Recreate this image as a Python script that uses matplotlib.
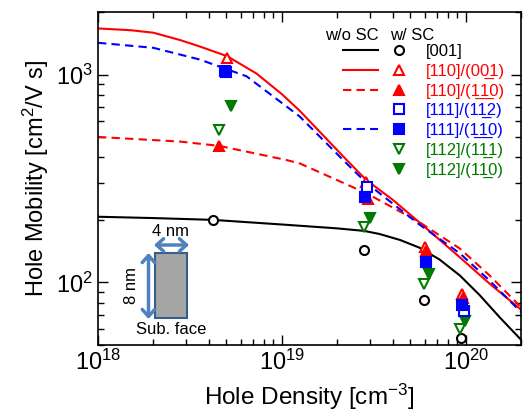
import numpy as np
import matplotlib
matplotlib.use('Agg')
import matplotlib.pyplot as plt
from matplotlib.lines import Line2D
from matplotlib.legend_handler import HandlerTuple
from matplotlib.patches import Rectangle, FancyArrowPatch

plt.rcParams['font.family'] = ['Liberation Sans', 'DejaVu Sans']
plt.rcParams['mathtext.fontset'] = 'custom'
plt.rcParams['mathtext.rm'] = 'Liberation Sans'
plt.rcParams['mathtext.it'] = 'Liberation Sans:italic'

# ---------------- data ----------------
# simulation lines (w/o SC)
n_line_001 = [1e18, 2e18, 4.2e18, 1e19, 2e19, 2.8e19, 3.4e19, 4.4e19, 5.6e19, 7.2e19, 9.3e19, 1.19e20, 1.53e20, 2e20]
mu_line_001 = [207, 204, 200, 190, 182, 177, 171, 160, 147, 129, 108, 87, 68, 53]

n_line_110_001 = [1e18, 1.5e18, 2e18, 2.8e18, 3.58e18, 5.05e18, 7.3e18, 1e19, 1.25e19, 2.24e19, 2.88e19, 4.03e19, 5.86e19, 9.3e19, 1.35e20, 2e20]
mu_line_110_001 = [1667, 1635, 1590, 1465, 1365, 1225, 1010, 805, 670, 390, 311, 249, 188, 132, 98.6, 74]

n_line_110_1m10 = [1e18, 2.8e18, 4.56e18, 1.06e19, 1.25e19, 2.9e19, 5.6e19, 9.3e19, 1.35e20, 2e20]
mu_line_110_1m10 = [501, 476, 454, 388, 374, 268, 195, 145.5, 108, 76]

n_line_111_1m10 = [1e18, 2e18, 3.58e18, 6.43e18, 1.25e19, 2.24e19, 2.9e19, 5.6e19, 9.3e19, 1.35e20, 2e20]
mu_line_111_1m10 = [1422, 1345, 1181, 981, 629, 375, 300, 190, 138, 102, 72]

# measured points (w/ SC)
n_001 = [4.2e18, 2.8e19, 5.9e19, 9.4e19]
mu_001 = [200, 143, 82, 54]
n_110_001 = [5.05e18, 2.88e19, 6.0e19, 9.5e19]
mu_110_001 = [1195, 305, 148, 87.5]
n_110_1m10 = [4.56e18, 2.94e19, 6.05e19, 9.65e19]
mu_110_1m10 = [451, 251, 142, 84]
n_111_11m2 = [5.0e18, 2.9e19, 6.05e19, 9.75e19]
mu_111_11m2 = [1030, 287, 125, 72.5]
n_111_1m10 = [4.92e18, 2.85e19, 6.1e19, 9.55e19]
mu_111_1m10 = [1037, 258, 126, 77.5]
n_112_1m11 = [4.56e18, 2.8e19, 5.9e19, 9.27e19]
mu_112_1m11 = [542, 185, 98, 60]
n_112_1m10 = [5.32e18, 3.0e19, 6.3e19, 9.95e19]
mu_112_1m10 = [708, 205, 110, 65]

U = '\u0332'
labels = ['[001]',
          '[110]/(00' + U + '1)',
          '[110]/(1' + U + '1' + U + '0)',
          '[111]/(11' + U + '2)',
          '[111]/(1' + U + '1' + U + '0)',
          '[112]/(11' + U + '1)',
          '[112]/(11' + U + '0)']

RED = '#ff0000'
BLUE = '#0000ff'
GREEN = '#007a00'

W, H = 523, 416
fig = plt.figure(figsize=(W / 100, H / 100), dpi=100)
L, R, T, B = 98, 521, 12, 345
ax = fig.add_axes([L / W, 1 - B / H, (R - L) / W, (B - T) / H])

lw = 1.5
l0, = ax.plot(n_line_001, mu_line_001, color='k', lw=lw)
l1, = ax.plot(n_line_110_001, mu_line_110_001, color=RED, lw=lw)
l2, = ax.plot(n_line_110_1m10, mu_line_110_1m10, color=RED, lw=lw, ls=(0, (4, 2.5)))
l4, = ax.plot(n_line_111_1m10, mu_line_111_1m10, color=BLUE, lw=lw, ls=(0, (4, 2.5)))

ms = 7
mew = 1.5
m0, = ax.plot(n_001, mu_001, ls='none', marker='o', ms=6.5, mfc='white', mec='k', mew=mew)
m5, = ax.plot(n_112_1m11, mu_112_1m11, ls='none', marker='v', ms=ms, mfc='white', mec=GREEN, mew=mew)
m6, = ax.plot(n_112_1m10, mu_112_1m10, ls='none', marker='v', ms=ms, mfc=GREEN, mec=GREEN, mew=mew)
m1, = ax.plot(n_110_001, mu_110_001, ls='none', marker='^', ms=ms, mfc='white', mec=RED, mew=mew)
m2, = ax.plot(n_110_1m10, mu_110_1m10, ls='none', marker='^', ms=ms, mfc=RED, mec=RED, mew=mew)
m3, = ax.plot(n_111_11m2, mu_111_11m2, ls='none', marker='s', ms=6.5, mfc='white', mec=BLUE, mew=mew)
m4, = ax.plot(n_111_1m10, mu_111_1m10, ls='none', marker='s', ms=6.5, mfc=BLUE, mec=BLUE, mew=mew)

ax.set_xscale('log')
ax.set_yscale('log')
ax.set_xlim(1e18, 2e20)
ax.set_ylim(50, 2000)
ax.tick_params(which='both', direction='in', top=True, right=True, labelsize=17, width=1.0)
ax.tick_params(which='major', length=7)
ax.tick_params(which='minor', length=4)
for s in ax.spines.values():
    s.set_linewidth(1.2)
ax.set_xlabel('Hole Density [cm$^{-3}$]', fontsize=17.5, labelpad=5)
ax.set_ylabel('Hole Mobility [cm$^2$/V s]', fontsize=17, labelpad=4)

blank = Line2D([], [], ls='none')
handles = [(l0, m0), (l1, m1), (l2, m2), (blank, m3), (l4, m4), (blank, m5), (blank, m6)]
colors = ['k', RED, RED, BLUE, BLUE, GREEN, GREEN]
leg = ax.legend(handles, labels, handler_map={tuple: HandlerTuple(ndivide=None, pad=0.25)},
                loc='upper left', bbox_to_anchor=(343 / W, 1 - 44 / H),
                bbox_transform=fig.transFigure, frameon=False, fontsize=12,
                handlelength=4.4, handletextpad=0.55, labelspacing=0.28, borderpad=0,
                borderaxespad=0)
for t, c in zip(leg.get_texts(), colors):
    t.set_color(c)

def px(x, y):
    return (x / W, 1 - y / H)

fig.text(*px(351.5, 35), 'w/o SC', ha='center', va='center', fontsize=12)
fig.text(*px(412.5, 35), 'w/ SC', ha='center', va='center', fontsize=12)

# inset sketch
x0, y0 = px(155, 318.3)
x1, y1 = px(187.3, 253.3)
fig.add_artist(Rectangle((x0, y0), x1 - x0, y1 - y0, transform=fig.transFigure,
                         facecolor='#a6a6a6', edgecolor='#385d8a', lw=1.5))
ac = '#4f81bd'
fig.add_artist(FancyArrowPatch(px(154, 245), px(189, 245), transform=fig.transFigure,
                               arrowstyle='<->,head_length=5,head_width=4.5', lw=2.5,
                               color=ac, mutation_scale=1, shrinkA=0, shrinkB=0))
fig.add_artist(FancyArrowPatch(px(148.5, 253), px(148.5, 319), transform=fig.transFigure,
                               arrowstyle='<->,head_length=5,head_width=4.5', lw=2.5,
                               color=ac, mutation_scale=1, shrinkA=0, shrinkB=0))
fig.text(*px(171, 231.5), '4 nm', ha='center', va='center', fontsize=12)
fig.text(*px(131.5, 285), '8 nm', ha='center', va='center', fontsize=12, rotation=90)
fig.text(*px(171, 330), 'Sub. face', ha='center', va='center', fontsize=12)

fig.savefig('out.png', dpi=100)
